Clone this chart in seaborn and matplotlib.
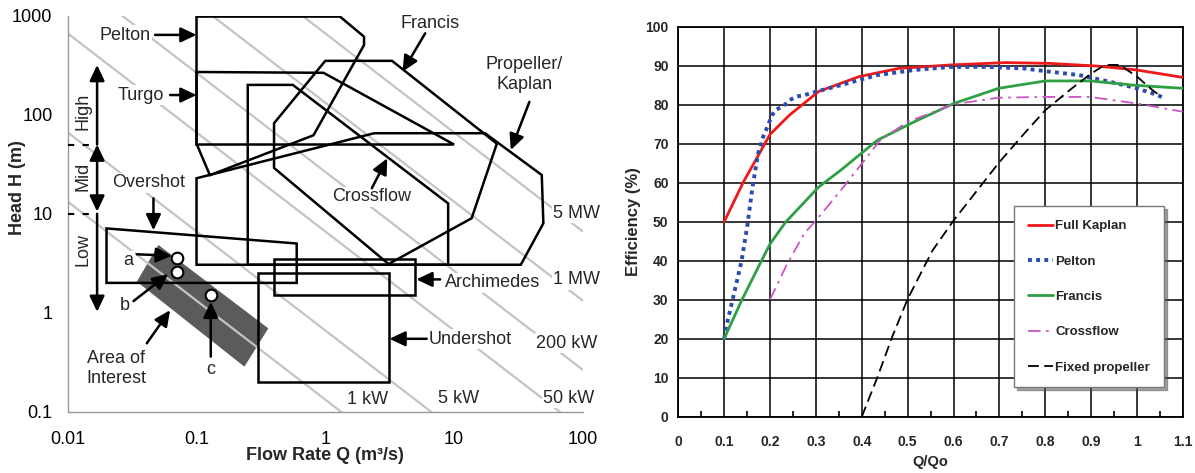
import matplotlib
matplotlib.use("Agg")
import matplotlib.pyplot as plt
import numpy as np
import pandas as pd
import seaborn as sns

# ---------------- left panel: application ranges (Q m3/s, H m) ----------------
pelton_q = [0.1, 1.3, 2.0, 2.0, 0.81, 0.127, 0.1]
pelton_h = [980, 980, 614, 506, 62, 24.5, 51]
turgo_q = [0.1, 0.97, 10, 0.1]
turgo_h = [270, 265, 50, 50]
francis_q = [0.4, 1.0, 3.3, 21.5, 13.7, 3.1, 0.4]
francis_h = [82, 350, 350, 51, 9.0, 3.1, 29]
crossflow_q = [0.25, 0.56, 9, 9, 0.25]
crossflow_h = [200, 200, 12.7, 3.05, 3.05]
kaplan_q = [0.1, 2.4, 17.4, 48, 49.4, 33, 0.1]
kaplan_h = [22.8, 65, 65, 24.6, 8.0, 3.05, 3.05]
overshot_q = [0.02, 0.6, 0.6, 0.02]
overshot_h = [7.1, 5.0, 2.0, 2.0]
archimedes_q = [0.4, 5, 5, 0.4]
archimedes_h = [3.5, 3.5, 1.5, 1.5]
undershot_q = [0.3, 3.1, 3.1, 0.3]
undershot_h = [2.5, 2.5, 0.2, 0.2]
interest_q = [0.0506, 0.361, 0.2355, 0.0344]
interest_h = [4.83, 0.695, 0.285, 2.06]

sites = ['a', 'b', 'c']
site_q = [0.0703, 0.0703, 0.129]
site_h = [3.6, 2.56, 1.51]

# iso-power lines
power_kw = [1, 5, 50, 200, 1000, 5000]
power_text = ['1 kW', '5 kW', '50 kW', '200 kW', '1 MW', '5 MW']
power_text_q = [1.47, 7.55, 49.4, 43.3, 58.7, 58.7]
power_text_h = [0.133, 0.137, 0.137, 0.491, 2.14, 10.1]
eta = 0.77

# callouts: text, text pos, arrow tail, arrow head
call_text = ['Pelton', 'Turgo', 'Francis', 'Propeller/\nKaplan', 'Crossflow',
             'Overshot', 'Archimedes', 'Undershot', 'a', 'b', 'c',
             'Area of\nInterest']
call_tq = [0.0279, 0.0371, 6.5, 35, 2.31, 0.0421, 19.8, 13.3, 0.0296, 0.0279, 0.129, 0.0237]
call_th = [638, 158, 838, 256, 14.9, 20.6, 2.01, 0.538, 3.33, 1.17, 0.268, 0.272]
tail_q = [0.0477, 0.0624, 5.97, 38.5, 2.3, 0.0463, 7.8, 6.14, 0.0344, 0.0324, 0.129, 0.0411]
tail_h = [640, 158, 664, 135, 18.1, 14.3, 2.17, 0.545, 3.89, 1.31, 0.36, 0.491]
head_q = [0.1, 0.1, 3.98, 27.6, 3.03, 0.0463, 5.1, 3.15, 0.0643, 0.0604, 0.129, 0.0624]
head_h = [640, 158, 272, 44, 36.3, 6.8, 2.17, 0.545, 3.76, 2.46, 1.29, 1.06]

# head classes
band_q = 0.0169
band_text = ['High', 'Mid', 'Low']
band_text_h = [107, 23.7, 4.3]

# ---------------- right panel: efficiency vs Q/Qo ----------------
kaplan_x = [0.1, 0.142, 0.2, 0.242, 0.306, 0.394, 0.48, 0.594, 0.714, 0.81, 0.914, 1.0, 1.1]
kaplan_y = [50, 60.2, 72.4, 77.3, 83.4, 87.2, 89.3, 90.2, 90.8, 90.6, 89.9, 88.9, 87]
pelton_x = [0.1, 0.106, 0.118, 0.138, 0.15, 0.162, 0.174, 0.185, 0.196, 0.204, 0.214,
            0.229, 0.243, 0.258, 0.276, 0.302, 0.338, 0.381, 0.434, 0.514, 0.594,
            0.674, 0.754, 0.8, 0.874, 0.94, 0.994, 1.034, 1.054]
pelton_y = [20, 23.8, 29.8, 40, 48.6, 59, 67.5, 71.8, 74.8, 77.3, 78.8,
            79.6, 81.2, 82.1, 82.5, 83.4, 84.5, 85.9, 87.6, 88.9, 89.7,
            89.7, 89.3, 88.6, 87.6, 85.9, 84.4, 82.9, 82]
francis_x = [0.1, 0.138, 0.178, 0.2, 0.234, 0.306, 0.354, 0.434, 0.514, 0.6, 0.698, 0.8, 0.898, 0.994, 1.1]
francis_y = [20, 29.8, 39.2, 44.3, 49.9, 58.9, 63.2, 70.9, 75.6, 80.3, 84.2, 86.1, 86.1, 85, 84.2]
crossflow_x = [0.2, 0.234, 0.274, 0.3, 0.354, 0.4, 0.44, 0.5, 0.6, 0.698, 0.8, 0.898, 1.0, 1.1]
crossflow_y = [30, 38.4, 46.9, 50.3, 58, 64.9, 70.9, 75.6, 80.1, 81.8, 82, 82, 80.3, 78.2]
fixed_x = [0.4, 0.434, 0.466, 0.5, 0.554, 0.6, 0.66, 0.7, 0.754, 0.8, 0.858, 0.9,
           0.93, 0.962, 1.0, 1.034, 1.054]
fixed_y = [0, 10.1, 20.4, 30.2, 42.6, 50.3, 59.3, 65.3, 72.6, 78.6, 84.2, 88,
           90.2, 90.2, 87.2, 83.7, 82]


sns.set_theme(style="white")
plt.rcParams['font.family'] = ['Liberation Sans', 'DejaVu Sans']
narrow = ['Liberation Sans Narrow', 'Liberation Sans', 'DejaVu Sans']

fig = plt.figure(figsize=(11.95, 4.73), dpi=100)
ax1 = fig.add_axes([0.0567, 0.1296, 0.4310, 0.8372])
ax2 = fig.add_axes([0.5676, 0.1190, 0.4223, 0.8245])

# ---------- left panel ----------
ax1.set_xscale('log')
ax1.set_yscale('log')
ax1.set_xlim(0.01, 100)
ax1.set_ylim(0.1, 1000)

ax1.fill(interest_q, interest_h, facecolor='#5b5b5b', edgecolor='none', zorder=0.5)

qq = np.array([0.01, 100.0])
for p in power_kw:
    ax1.plot(qq, p / (9.81 * eta * qq), color='#c4c4c4', lw=1.6, zorder=1)

for q, h in [(pelton_q, pelton_h), (turgo_q, turgo_h), (francis_q, francis_h),
             (crossflow_q, crossflow_h), (kaplan_q, kaplan_h), (overshot_q, overshot_h),
             (archimedes_q, archimedes_h), (undershot_q, undershot_h)]:
    ax1.fill(q, h, facecolor='none', edgecolor='black', lw=1.8, zorder=3)

sns.scatterplot(x=site_q, y=site_h, ax=ax1, color='white', edgecolor='black',
                s=70, linewidth=1.5, zorder=7)

box = dict(facecolor='white', edgecolor='none', pad=1)
arrow = dict(arrowstyle='-|>,head_length=0.95,head_width=0.45', mutation_scale=10,
             lw=1.8, color='black', shrinkA=0, shrinkB=0)

for t, q, h in zip(power_text, power_text_q, power_text_h):
    ax1.text(q, h, t, fontsize=13, ha='left', va='center', bbox=box, zorder=4, clip_on=False)

for i, t in enumerate(call_text):
    ax1.annotate('', xy=(head_q[i], head_h[i]), xytext=(tail_q[i], tail_h[i]),
                 arrowprops=arrow, zorder=6)
    ax1.text(call_tq[i], call_th[i], t, fontsize=13, ha='center', va='center',
             linespacing=1.2, bbox=box, zorder=5)

# head class arrows
ax1.annotate('', xy=(band_q, 318), xytext=(band_q, 50), arrowprops=arrow, zorder=6)
ax1.annotate('', xy=(band_q, 10.5), xytext=(band_q, 50),
             arrowprops=dict(arrow, arrowstyle='<|-|>,head_length=0.95,head_width=0.45'), zorder=6)
ax1.annotate('', xy=(band_q, 1.02), xytext=(band_q, 10), arrowprops=arrow, zorder=6)
for hh in [50, 10]:
    ax1.plot([0.01, band_q], [hh, hh], color='black', lw=1.5, ls=(0, (3, 4)), zorder=4)
for t, h in zip(band_text, band_text_h):
    ax1.text(0.0132, h, t, fontsize=13, rotation=90, ha='center', va='center',
             bbox=box, zorder=5)

for s in ['top', 'right']:
    ax1.spines[s].set_visible(False)
for s in ['left', 'bottom']:
    ax1.spines[s].set_color('#999999')
    ax1.spines[s].set_linewidth(1.0)
ax1.minorticks_off()
ax1.set_xticks([0.01, 0.1, 1, 10, 100])
ax1.set_xticklabels(['0.01', '0.1', '1', '10', '100'])
ax1.set_yticks([0.1, 1, 10, 100, 1000])
ax1.set_yticklabels(['0.1', '1', '10', '100', '1000'])
ax1.tick_params(axis='both', which='major', direction='out', length=3.5, width=1,
                color='#999999', labelsize=13, labelcolor='black')
ax1.tick_params(axis='x', pad=10.5)
ax1.tick_params(axis='y', pad=7.5)
ax1.set_xlabel('Flow Rate Q (m³/s)', fontsize=13, fontweight='bold')
ax1.set_ylabel('Head H (m)', fontsize=13, fontweight='bold')
ax1.xaxis.set_label_coords(0.5, -0.089)
ax1.yaxis.set_label_coords(-0.082, 0.567)

# ---------- right panel ----------
series = [
    ('Full Kaplan', kaplan_x, kaplan_y, dict(color='#f01818', lw=2.0, linestyle='-')),
    ('Pelton', pelton_x, pelton_y, dict(color='#2a4cb0', lw=2.8, linestyle=(0, (1, 1.1)))),
    ('Francis', francis_x, francis_y, dict(color='#2ea043', lw=2.0, linestyle='-')),
    ('Crossflow', crossflow_x, crossflow_y, dict(color='#cc55c4', lw=1.3, linestyle=(0, (7, 3, 1.5, 3)))),
    ('Fixed propeller', fixed_x, fixed_y, dict(color='black', lw=1.3, linestyle=(0, (6, 3)))),
]
for name, x, y, style in series:
    df = pd.DataFrame({'Q/Qo': x, 'Efficiency': y})
    sns.lineplot(data=df, x='Q/Qo', y='Efficiency', ax=ax2, label=name,
                 estimator=None, sort=False, zorder=3, **style)

ax2.set_xlim(0, 1.1)
ax2.set_ylim(0, 100)
ax2.set_xticks(np.round(np.arange(0, 1.11, 0.1), 2))
ax2.set_xticklabels(['0', '0.1', '0.2', '0.3', '0.4', '0.5', '0.6', '0.7', '0.8', '0.9', '1', '1.1'])
ax2.set_xticks(np.round(np.arange(0.05, 1.1, 0.1), 3), minor=True)
ax2.set_yticks(np.arange(0, 101, 10))
ax2.grid(True, which='major', color='black', lw=1.1)
ax2.set_axisbelow(True)
for s in ax2.spines.values():
    s.set_color('black')
    s.set_linewidth(1.3)
ax2.tick_params(axis='both', which='major', direction='out', length=3.5, width=1.2,
                color='black', labelsize=10)
ax2.tick_params(axis='x', which='major', pad=10)
ax2.tick_params(axis='y', which='major', pad=3.5)
ax2.tick_params(axis='x', which='minor', direction='in', length=4.5, width=1.2,
                color='black', bottom=True)
for lab in ax2.get_xticklabels() + ax2.get_yticklabels():
    lab.set_family(narrow)
    lab.set_fontweight('bold')
ax2.set_xlabel('Q/Qo', fontsize=10.5, fontweight='bold', family=narrow)
ax2.set_ylabel('Efficiency (%)', fontsize=12, fontweight='bold')
ax2.xaxis.set_label_coords(0.5, -0.098)
ax2.yaxis.set_label_coords(-0.074, 0.5)

leg = ax2.legend(loc='upper left', bbox_to_anchor=(0.665, 0.540), borderaxespad=0,
                 frameon=True, fancybox=False, shadow=True, handlelength=1.9,
                 handletextpad=0.2, labelspacing=1.75, borderpad=1.05,
                 prop={'family': narrow, 'weight': 'bold', 'size': 9.5})
leg.get_frame().set_edgecolor('#777777')
leg.get_frame().set_linewidth(1.0)
leg.get_frame().set_alpha(1)

fig.savefig('out.png', dpi=100)
